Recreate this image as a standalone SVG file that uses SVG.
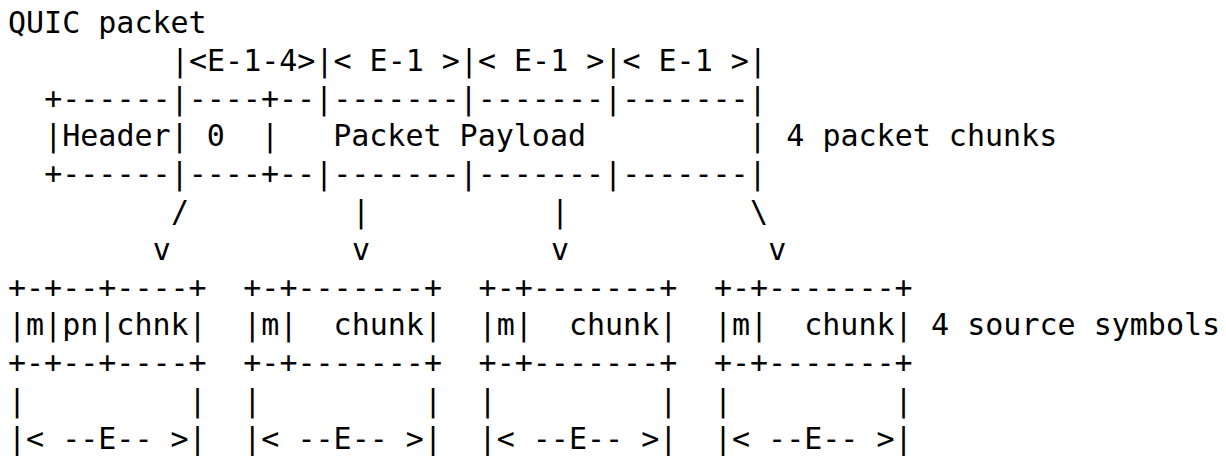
<svg xmlns="http://www.w3.org/2000/svg" width="1226" height="456" viewBox="0 0 1226 456">
  <style>
    .t { font-family: "DejaVu Sans Mono", "Liberation Mono", monospace; font-size: 30px; fill: #000; white-space: pre; }
  </style>
  <rect width="1226" height="456" fill="#fff"/>

  <!-- title -->
  <g id="title">
    <text class="t" x="8" y="33" xml:space="preserve">QUIC packet</text>
  </g>

  <!-- QUIC packet split into header, zero field and payload chunks -->
  <g id="packet">
    <text class="t" x="170.9" y="70.8" xml:space="preserve">|&lt;E-1-4&gt;|&lt; E-1 &gt;|&lt; E-1 &gt;|&lt; E-1 &gt;|</text>
    <text class="t" x="44.2" y="108.6" xml:space="preserve">+------|----+--|-------|-------|-------|</text>
    <text class="t" x="44.2" y="146.4" xml:space="preserve">|Header| 0  |   Packet Payload         |</text>
    <text class="t" x="44.2" y="184.2" xml:space="preserve">+------|----+--|-------|-------|-------|</text>
  </g>
  <g id="packet-label">
    <text class="t" x="786.3" y="146.4" xml:space="preserve">4 packet chunks</text>
  </g>

  <!-- chunk-to-symbol connectors -->
  <g id="connectors">
    <text class="t" x="170.9" y="222" xml:space="preserve">/</text>
    <text class="t" x="351.9" y="222" xml:space="preserve">|</text>
    <text class="t" x="551" y="222" xml:space="preserve">|</text>
    <text class="t" x="750.1" y="222" xml:space="preserve">\</text>
    <text class="t" x="152.8" y="259.8" xml:space="preserve">v</text>
    <text class="t" x="351.9" y="259.8" xml:space="preserve">v</text>
    <text class="t" x="551" y="259.8" xml:space="preserve">v</text>
    <text class="t" x="768.2" y="259.8" xml:space="preserve">v</text>
  </g>

  <!-- source symbols -->
  <g id="symbol-1">
    <text class="t" x="8" y="297.6" xml:space="preserve">+-+--+----+</text>
    <text class="t" x="8" y="335.4" xml:space="preserve">|m|pn|chnk|</text>
    <text class="t" x="8" y="373.2" xml:space="preserve">+-+--+----+</text>
    <text class="t" x="8" y="411" xml:space="preserve">|         |</text>
    <text class="t" x="8" y="448.8" xml:space="preserve">|&lt; --E-- &gt;|</text>
  </g>
  <g id="symbol-2">
    <text class="t" x="243.3" y="297.6" xml:space="preserve">+-+-------+</text>
    <text class="t" x="243.3" y="335.4" xml:space="preserve">|m|  chunk|</text>
    <text class="t" x="243.3" y="373.2" xml:space="preserve">+-+-------+</text>
    <text class="t" x="243.3" y="411" xml:space="preserve">|         |</text>
    <text class="t" x="243.3" y="448.8" xml:space="preserve">|&lt; --E-- &gt;|</text>
  </g>
  <g id="symbol-3">
    <text class="t" x="478.6" y="297.6" xml:space="preserve">+-+-------+</text>
    <text class="t" x="478.6" y="335.4" xml:space="preserve">|m|  chunk|</text>
    <text class="t" x="478.6" y="373.2" xml:space="preserve">+-+-------+</text>
    <text class="t" x="478.6" y="411" xml:space="preserve">|         |</text>
    <text class="t" x="478.6" y="448.8" xml:space="preserve">|&lt; --E-- &gt;|</text>
  </g>
  <g id="symbol-4">
    <text class="t" x="713.9" y="297.6" xml:space="preserve">+-+-------+</text>
    <text class="t" x="713.9" y="335.4" xml:space="preserve">|m|  chunk|</text>
    <text class="t" x="713.9" y="373.2" xml:space="preserve">+-+-------+</text>
    <text class="t" x="713.9" y="411" xml:space="preserve">|         |</text>
    <text class="t" x="713.9" y="448.8" xml:space="preserve">|&lt; --E-- &gt;|</text>
  </g>
  <g id="symbols-label">
    <text class="t" x="931.1" y="335.4" xml:space="preserve">4 source symbols</text>
  </g>
</svg>
